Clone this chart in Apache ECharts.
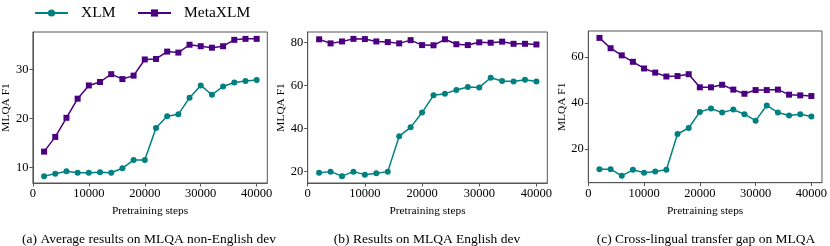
<!DOCTYPE html>
<html>
<head>
<meta charset="utf-8">
<script src="https://cdn.jsdelivr.net/npm/echarts@6/dist/echarts.min.js"></script>
<style>
html,body{margin:0;padding:0;background:#fff;}
#c{width:830px;height:246px;}
</style>
</head>
<body>
<div id="c"></div>
<script>
// Data
var steps = [2000,4000,6000,8000,10000,12000,14000,16000,18000,20000,22000,24000,26000,28000,30000,32000,34000,36000,38000,40000];
var xTicks = [0,10000,20000,30000,40000];

var aXLM     = [8.2,8.7,9.2,8.9,8.9,9.0,8.9,9.8,11.5,11.5,18.0,20.4,20.8,24.2,26.7,24.8,26.5,27.3,27.6,27.8];
var aMetaXLM = [13.2,16.2,20.1,24.0,26.7,27.4,29.0,28.0,28.7,32.0,32.1,33.6,33.4,35.0,34.7,34.4,34.7,36.0,36.2,36.2];
var aTicks   = [10,20,30];

var bXLM     = [19.5,20.0,17.9,20.0,18.6,19.2,20.0,36.5,40.6,47.5,55.5,56.3,58.0,59.4,59.2,63.7,62.2,61.9,62.8,62.0];
var bMetaXLM = [81.6,79.7,80.6,81.8,81.7,80.6,80.3,79.7,81.2,78.9,78.8,81.6,79.3,78.9,80.2,80.0,80.5,79.5,79.5,79.2];
var bTicks   = [20,40,60,80];

var cXLM     = [11.2,11.2,8.3,10.9,9.6,10.2,10.9,26.5,29.1,36.1,37.6,35.8,37.1,35.1,32.3,38.9,35.8,34.5,35.1,34.1];
var cMetaXLM = [68.3,63.8,60.7,57.9,55.0,53.2,51.5,51.7,52.5,46.8,46.8,47.9,45.8,44.0,45.6,45.6,45.8,43.6,43.3,43.0];
var cTicks   = [20,40,60];

var captions = ['(a) Average results on MLQA non-English dev','(b) Results on MLQA English dev','(c) Cross-lingual transfer gap on MLQA'];
var xTitle = 'Pretraining steps';
var yTitle = 'MLQA F1';

var FONT = '"Liberation Serif","Times New Roman",serif';
var TEAL = '#008080', PURPLE = '#4B0082', SPINE = '#555';

function pairs(ys){ return steps.map(function(s,i){ return [s, ys[i]]; }); }
function yr(arrs){ var all=[].concat.apply([],arrs); var mn=Math.min.apply(null,all), mx=Math.max.apply(null,all); var m=(mx-mn)*0.05; return [mn-m, mx+m]; }

var panels = [
  {xl:aXLM, ml:aMetaXLM, ticks:aTicks, left:29.3, width:238, top:32, height:151},
  {xl:bXLM, ml:bMetaXLM, ticks:bTicks, left:307.7, width:239.6, top:32, height:151},
  {xl:cXLM, ml:cMetaXLM, ticks:cTicks, left:588.3, width:239.4, top:31, height:151.7}
];
var xMax = 40000 + 0.05*(40000-2000);

var grids=[], xAxes=[], yAxes=[], series=[], graphics=[];
panels.forEach(function(p,i){
  var r = yr([p.xl,p.ml]);
  grids.push({left:p.left, top:p.top, width:p.width, height:p.height, show:true, borderColor:SPINE, borderWidth:1, backgroundColor:'transparent'});
  xAxes.push({type:'value', gridIndex:i, min:0, max:xMax,
    name:xTitle, nameLocation:'middle', nameGap:17,
    nameTextStyle:{fontFamily:FONT, fontSize:11.4, color:'#000'},
    axisLine:{show:true, lineStyle:{color:SPINE, width:1}},
    axisTick:{show:true, length:3.5, lineStyle:{color:SPINE}, customValues:xTicks},
    axisLabel:{fontFamily:FONT, fontSize:12.5, color:'#000', margin:4.5, customValues:xTicks, formatter:function(v){return String(v);}},
    splitLine:{show:false}});
  yAxes.push({type:'value', gridIndex:i, min:r[0], max:r[1],
    name:yTitle, nameLocation:'middle', nameGap:19, nameRotate:90,
    nameTextStyle:{fontFamily:FONT, fontSize:11.4, color:'#000'},
    axisLine:{show:true, lineStyle:{color:SPINE, width:1}},
    axisTick:{show:true, length:3.5, lineStyle:{color:SPINE}, customValues:p.ticks},
    axisLabel:{fontFamily:FONT, fontSize:12.5, color:'#000', margin:4.5, customValues:p.ticks, formatter:function(v){return String(v);}},
    splitLine:{show:false}});
  series.push({name:'XLM', type:'line', xAxisIndex:i, yAxisIndex:i, data:pairs(p.xl),
    symbol:'circle', symbolSize:6, lineStyle:{color:TEAL, width:1.5}, itemStyle:{color:TEAL}, animation:false});
  series.push({name:'MetaXLM', type:'line', xAxisIndex:i, yAxisIndex:i, data:pairs(p.ml),
    symbol:'rect', symbolSize:6, lineStyle:{color:PURPLE, width:1.5}, itemStyle:{color:PURPLE}, animation:false});
});
var capX = [149, 427, 706];
captions.forEach(function(t,i){
  graphics.push({type:'text', x:capX[i], y:239, style:{text:t, font:'13.5px '+FONT, fill:'#000', textAlign:'center', textVerticalAlign:'middle'}});
});

var chart = echarts.init(document.getElementById('c'), null, {renderer:'canvas'});
chart.setOption({
  animation:false,
  grid:grids, xAxis:xAxes, yAxis:yAxes, series:series, graphic:graphics,
  legend:[
    {data:['XLM'], left:29, top:0, itemWidth:33, itemHeight:9, itemGap:0, textStyle:{fontFamily:FONT, fontSize:15.5, color:'#000', padding:[0,0,0,8]}},
    {data:['MetaXLM'], left:132, top:0, itemWidth:33, itemHeight:9, itemGap:0, textStyle:{fontFamily:FONT, fontSize:15.5, color:'#000', padding:[0,0,0,8]}}
  ]
});
</script>
</body>
</html>
